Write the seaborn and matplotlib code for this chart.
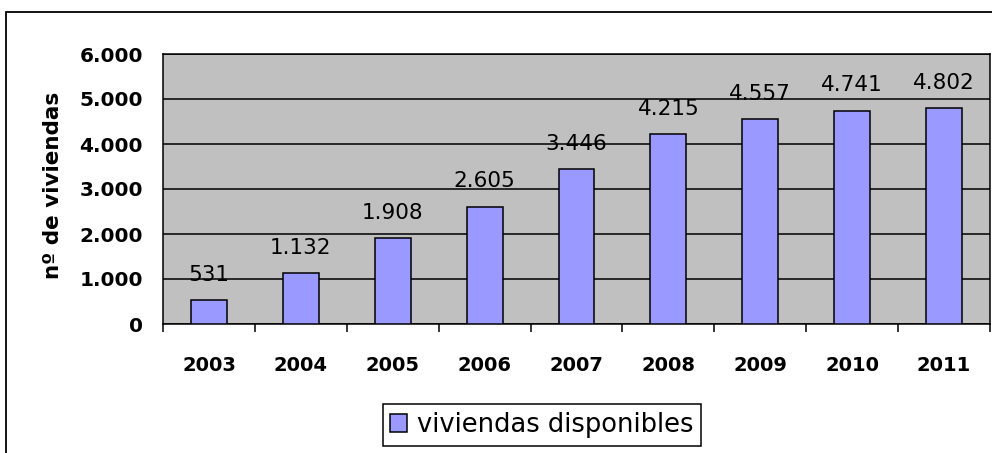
import numpy as np
import pandas as pd
import matplotlib
matplotlib.use('Agg')
import matplotlib.pyplot as plt
import matplotlib.patches as patches
from matplotlib.ticker import FixedLocator, FuncFormatter
import seaborn as sns

# data
years = ['2003', '2004', '2005', '2006', '2007', '2008', '2009', '2010', '2011']
viviendas = [531, 1132, 1908, 2605, 3446, 4215, 4557, 4741, 4802]
serie_label = 'viviendas disponibles'
y_label = 'nº de viviendas'
y_ticks = [0, 1000, 2000, 3000, 4000, 5000, 6000]

def miles(v, pos=None):
    # spanish thousands separator
    return f'{int(v):,}'.replace(',', '.')

sns.set_style('white')
plt.rcParams['font.family'] = ['DejaVu Sans']
plt.rcParams['text.color'] = 'black'
plt.rcParams['axes.labelcolor'] = 'black'
plt.rcParams['xtick.color'] = 'black'
plt.rcParams['ytick.color'] = 'black'

df = pd.DataFrame({'year': years, 'n': viviendas})

fig = plt.figure(figsize=(9.92, 4.53), dpi=100)
ax = fig.add_axes([163/992, 1 - 324/453, (990 - 163)/992, (324 - 54)/453])
ax.set_facecolor('#C0C0C0')

sns.barplot(data=df, x='year', y='n', color='#9999FF', saturation=1,
            edgecolor='black', linewidth=1.1, width=0.39, ax=ax,
            label=serie_label, zorder=3)

ax.set_ylim(0, 6000)
ax.set_xlim(-0.5, len(years) - 0.5)
ax.yaxis.set_major_locator(FixedLocator(y_ticks))
ax.yaxis.set_major_formatter(FuncFormatter(miles))
ax.grid(axis='y', color='black', linewidth=1.1, zorder=1)
ax.set_axisbelow(True)

for s in ax.spines.values():
    s.set_color('black')
    s.set_linewidth(1.1)

# ticks: y outward, x marks at the category borders
ax.tick_params(axis='y', direction='out', length=6.5, width=1.1, color='black',
               pad=8, labelsize=14.5, labelcolor='black')
ax.tick_params(axis='x', which='major', length=0, pad=23, labelsize=14,
               labelcolor='black')
ax.xaxis.set_minor_locator(FixedLocator(np.arange(-0.5, len(years), 1.0)))
ax.tick_params(axis='x', which='minor', direction='out', length=5.5, width=1.1,
               color='black', bottom=True)
for t in ax.get_xticklabels() + ax.get_yticklabels():
    t.set_fontweight('bold')

ax.set_xlabel('')
ax.set_ylabel(y_label, fontsize=15.5, fontweight='bold', color='black')
ax.yaxis.set_label_coords(-0.121, 0.515)

# value labels over the bars
for i, v in enumerate(viviendas):
    ax.annotate(miles(v), (i, v), xytext=(0, 11), textcoords='offset points',
                ha='center', va='bottom', fontsize=15.5, color='black', zorder=4)

leg = ax.legend(loc='center', bbox_to_anchor=(542/992, 1 - 425/453),
                bbox_transform=fig.transFigure, fontsize=18.5, frameon=True,
                fancybox=False, framealpha=1, edgecolor='black',
                handlelength=0.65, handleheight=0.65, handletextpad=0.4,
                borderpad=0.3, borderaxespad=0)
leg.get_frame().set_linewidth(1.1)
for t in leg.get_texts():
    t.set_color('black')

# outer chart border (cut off at right and bottom)
fig.patches.append(patches.Rectangle((6/992, -0.2), 1.2, 1 - 12/453 + 0.2,
                                     transform=fig.transFigure, fill=False,
                                     edgecolor='black', linewidth=1.3))

fig.savefig('out.png', dpi=100)
